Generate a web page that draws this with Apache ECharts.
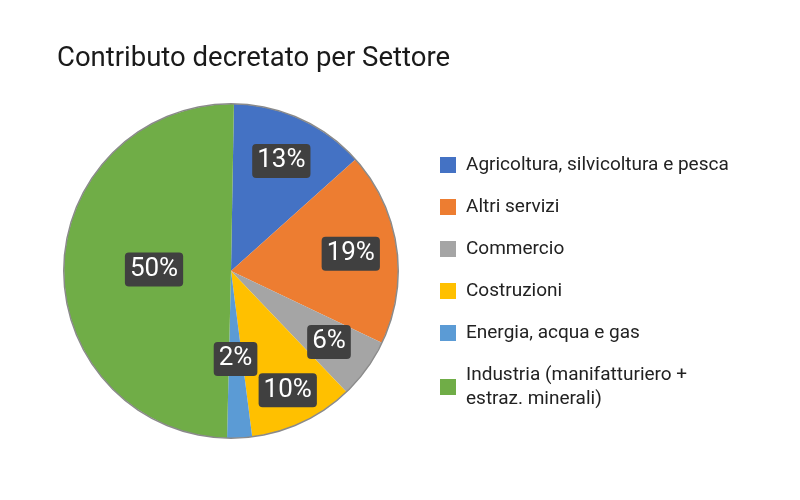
<!DOCTYPE html>
<html>
<head>
<meta charset="utf-8">
<script src="https://cdn.jsdelivr.net/npm/echarts@6/dist/echarts.min.js"></script>
<style>
  html, body { margin: 0; padding: 0; background: #fff; }
  #chart { width: 800px; height: 500px; }
</style>
</head>
<body>
<div id="chart"></div>
<script>
// sectors, clockwise from 12 o'clock
const settori = [
  'Agricoltura, silvicoltura e pesca',
  'Altri servizi',
  'Commercio',
  'Costruzioni',
  'Energia, acqua e gas',
  'Industria (manifatturiero + estraz. minerali)'
];
const quote = [13.1, 18.7, 5.8, 10.1, 2.4, 49.9];
const colori = ['#4472C4', '#ED7D31', '#A5A5A5', '#FFC000', '#5B9BD5', '#70AD47'];

const font = 'Roboto, "Noto Sans", sans-serif';
const centro = [231, 271];

const data = settori.map((name, i) => ({
  name,
  value: quote[i],
  itemStyle: { color: colori[i] }
}));

// transparent copy of the pie, only used to place the percentage boxes
// at a given distance from the centre (inside label = half the radius)
function etichette(raggio, mostra) {
  return {
    type: 'pie',
    center: centro,
    radius: [0, raggio],
    startAngle: 89,
    silent: true,
    avoidLabelOverlap: false,
    z: 4,
    itemStyle: { color: 'rgba(0,0,0,0)' },
    labelLine: { show: false },
    labelLayout: { hideOverlap: false },
    label: {
      show: true,
      position: 'inside',
      formatter: p => Math.round(p.value) + '%',
      fontFamily: font,
      fontSize: 26,
      color: '#fff',
      backgroundColor: '#404040',
      borderRadius: 4,
      padding: [5, 5, 3, 5]
    },
    data: settori.map((name, i) => ({
      name,
      value: quote[i],
      label: { show: mostra.includes(i) }
    }))
  };
}

const chart = echarts.init(document.getElementById('chart'));
chart.setOption({
  animation: false,
  title: {
    text: 'Contributo decretato per Settore',
    left: 52,
    top: 40,
    textStyle: { fontFamily: font, fontSize: 27.5, fontWeight: 'normal', color: '#1a1a1a' }
  },
  legend: {
    orient: 'vertical',
    left: 435,
    top: 148,
    itemWidth: 16,
    itemHeight: 16,
    itemGap: 18,
    icon: 'rect',
    data: settori,
    formatter: name => name.replace('+ ', '+\n'),
    textStyle: { fontFamily: font, fontSize: 19, color: '#222', lineHeight: 24, padding: [0, 0, 0, 5] }
  },
  series: [
    {
      // the slices
      type: 'pie',
      center: centro,
      radius: [0, 167],
      startAngle: 89,
      clockwise: true,
      silent: true,
      label: { show: false },
      labelLine: { show: false },
      itemStyle: { borderWidth: 0 },
      data
    },
    {
      // thin grey outline round the pie
      type: 'pie',
      center: centro,
      radius: [166.5, 168],
      silent: true,
      label: { show: false },
      labelLine: { show: false },
      itemStyle: { color: '#8a8a8a' },
      data: [{ name: 'bordo', value: 1 }],
      z: 3
    },
    etichette(236, [0, 1, 2]),
    etichette(258, [3]),
    etichette(170, [4]),
    etichette(148, [5])
  ]
});
</script>
</body>
</html>
